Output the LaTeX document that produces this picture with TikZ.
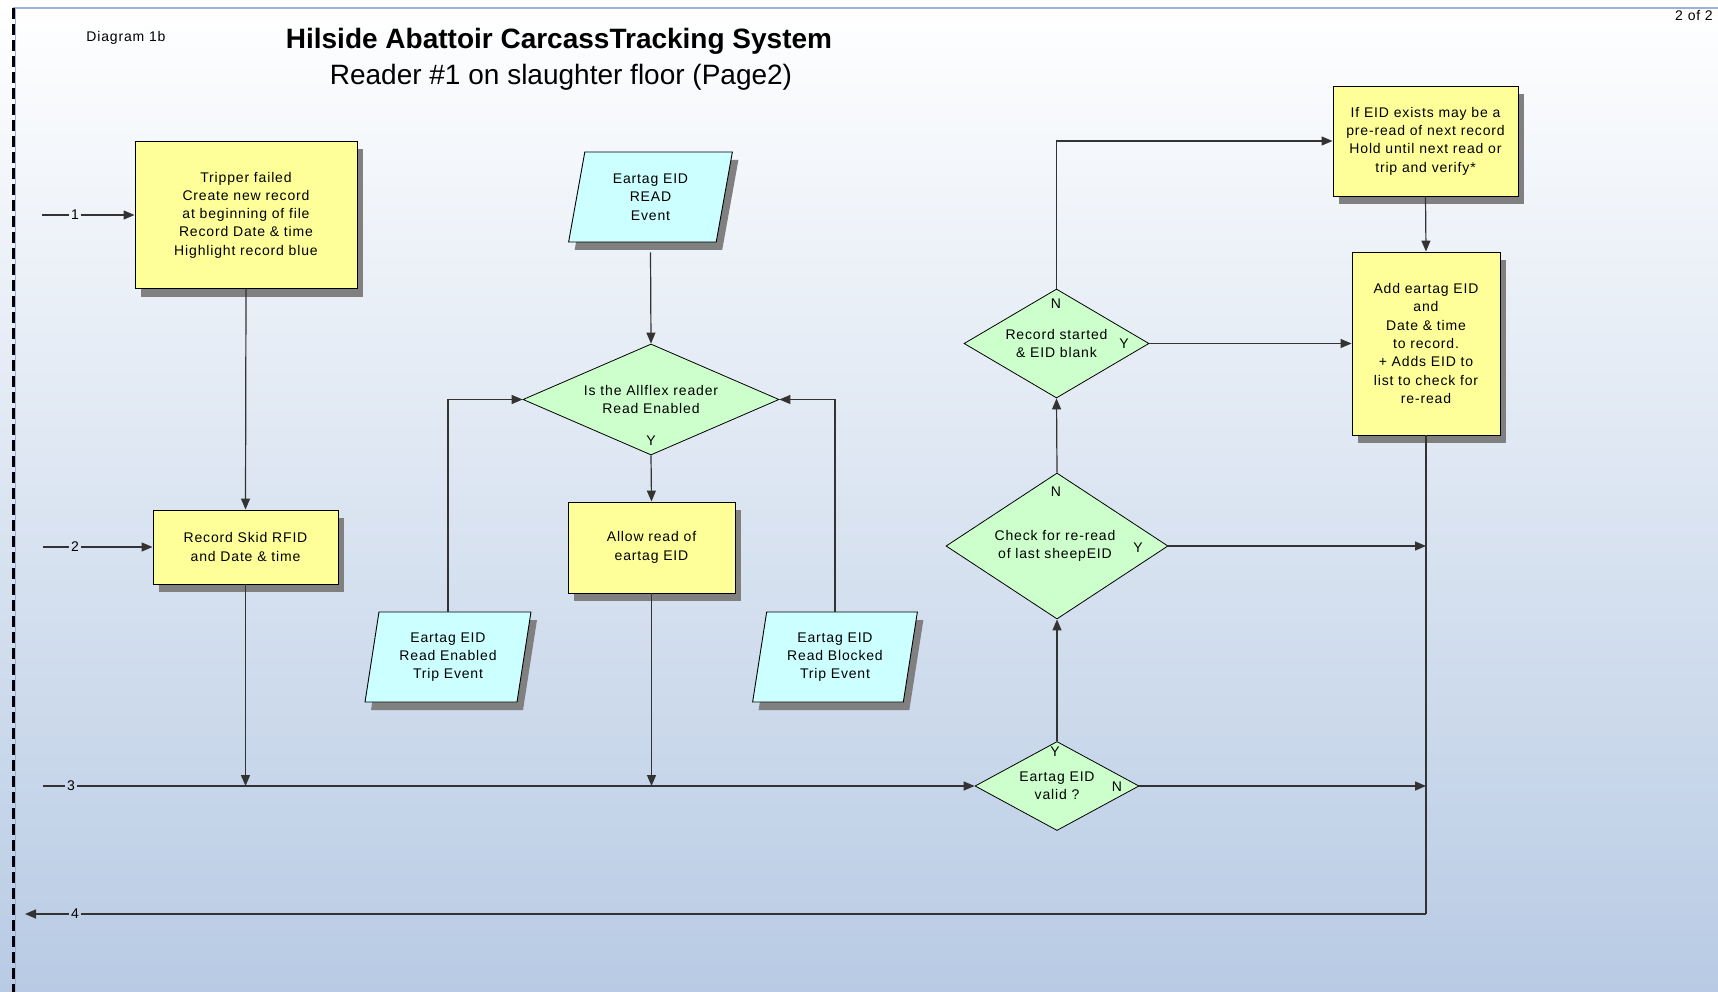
\documentclass[tikz,border=0pt]{standalone}
\usepackage{fontspec}
\setmainfont{Liberation Sans}
\newfontfamily\boxfont[LetterSpace=6]{Liberation Sans}
\usetikzlibrary{arrows.meta,shapes.geometric,shadows}

\definecolor{boxyellow}{HTML}{FFFF99}
\definecolor{iocyan}{HTML}{CCFFFF}
\definecolor{decgreen}{HTML}{CCFFCC}
\definecolor{shadowgray}{HTML}{808080}
\definecolor{bgbottom}{RGB}{184,203,228}
\definecolor{framebl}{RGB}{155,178,218}
\definecolor{linegray}{HTML}{333333}

\begin{document}
\begin{tikzpicture}[x=1pt,y=-1pt,
  every node/.style={font=\boxfont\fontsize{14}{18.3}\selectfont, inner sep=1pt, align=center},
  boxshadow/.style={drop shadow={shadow xshift=6pt, shadow yshift=-8pt, opacity=1, fill=shadowgray}},
  procbox/.style={rectangle, draw=black, line width=0.9pt, fill=boxyellow, inner sep=0pt, boxshadow},
  iobox/.style={trapezium, trapezium left angle=78.7, trapezium right angle=101.3,
    trapezium stretches=true, draw=black, line width=0.9pt, fill=iocyan, inner sep=0pt, boxshadow},
  decision/.style={diamond, draw=black, line width=0.8pt, fill=decgreen, inner sep=0pt},
  conn/.style={draw=linegray, line width=1.2pt},
  arr/.style={conn, -{Triangle[length=11pt,width=9pt]}},
  flowlabel/.style={inner sep=2pt},
]
\useasboundingbox (0,0) rectangle (1718,992);

% page background and frame
\shade[top color=white, bottom color=bgbottom] (0,0) rectangle (1718,992);
\fill[white] (0,0) rectangle (1718,8);
\draw[framebl, line width=2pt] (13,8) -- (1718,8);
\draw[framebl, line width=1pt] (15.5,8) -- (15.5,992);
\draw[black, line width=2.5pt, dash pattern=on 11pt off 5pt] (13.5,8) -- (13.5,992);

% headings
\node (diag) at (126,38) {\fontsize{14}{16}\selectfont Diagram 1b};
\node (title) at (559,41) {\fontspec{Liberation Sans}\fontsize{28}{30}\selectfont\bfseries Hilside Abattoir CarcassTracking System};
\node (subtitle) at (561,77) {\fontspec{Liberation Sans}\fontsize{28}{30}\selectfont Reader \#1 on slaughter floor (Page2)};
\node (pageno) at (1694,16) {2 of 2};

% process boxes
\node[procbox, minimum width=222pt, minimum height=147pt] (tripper) at (246,215)
  {Tripper failed\\Create new record\\at beginning of file\\Record Date \& time\\Highlight record blue};
\node[procbox, minimum width=185pt, minimum height=74pt] (skid) at (245.5,547)
  {Record Skid RFID\\and Date \& time};
\node[procbox, minimum width=167pt, minimum height=91pt] (allow) at (651.5,547.5)
  {Allow read of\\eartag EID};
\node[procbox, minimum width=185pt, minimum height=110pt] (ifeid) at (1425.5,141)
  {If EID exists may be a\\pre-read of next record\\Hold until next read or\\trip and verify*};
\node[procbox, minimum width=148pt, minimum height=183pt] (add) at (1426,343.5)
  {Add eartag EID\\and\\Date \& time\\to record.\\+ Adds EID to\\list to check for\\re-read};

% event inputs
\node[iobox, minimum width=165pt, minimum height=90pt] (read) at (650.5,197)
  {Eartag EID\\READ\\Event};
\node[iobox, minimum width=166pt, minimum height=90pt] (enabled) at (448,657)
  {Eartag EID\\Read Enabled\\Trip Event};
\node[iobox, minimum width=165pt, minimum height=90pt] (blocked) at (835,657)
  {Eartag EID\\Read Blocked\\Trip Event};

% decisions
\node[decision, minimum width=256pt, minimum height=111pt] (allflex) at (651,399.5) {};
\node (allflex-t) at (allflex) {Is the Allflex reader\\Read Enabled};
\node (allflex-y) at (651,441) {Y};

\node[decision, minimum width=185pt, minimum height=109pt] (started) at (1056.5,343.5) {};
\node (started-t) at (started) {Record started\\\& EID blank};
\node (started-n) at (1056,304) {N};
\node (started-y) at (1124,344) {Y};

\node[decision, minimum width=222pt, minimum height=146pt] (check) at (1057,546) {};
\node (check-t) at (1055,546) {Check for re-read\\of last sheepEID};
\node (check-n) at (1056,492) {N};
\node (check-y) at (1138,548) {Y};

\node[decision, minimum width=164pt, minimum height=89pt] (valid) at (1057,786) {};
\node (valid-t) at (valid) {Eartag EID\\valid ?};
\node (valid-y) at (1055,752) {Y};
\node (valid-n) at (1117,787) {N};

% numbered flow lines
\coordinate (s1) at (42,215);
\node[flowlabel] (n1) at (75,215) {1};
\coordinate (s2) at (43,547);
\node[flowlabel] (n2) at (75,547) {2};
\coordinate (s3) at (43,786);
\node[flowlabel] (n3) at (71,786) {3};
\coordinate (e4) at (25,914);
\node[flowlabel] (n4) at (75,914) {4};

\draw[conn] (s1) -- (n1);
\draw[arr] (n1) -- (n1 -| tripper.west);
\draw[conn] (s2) -- (n2);
\draw[arr] (n2) -- (n2 -| skid.west);
\draw[conn, line width=1.5pt] (s3) -- (n3);
\draw[arr, line width=1.5pt] (n3) -- (n3 -| valid.west);

\coordinate (j3a) at (skid.south |- s3);
\coordinate (j3b) at (allow.south |- s3);
\coordinate (j4) at (add.south |- e4);

\draw[arr] (tripper.south) -- (skid.north);
\draw[arr, line width=1.6pt] (skid.south) -- (j3a);

\draw[arr] ([yshift=-10pt]read.south) -- (allflex.north);
\draw[arr] (allflex.south) -- (allow.north);
\draw[arr] (allow.south) -- (j3b);
\draw[arr] (enabled.north) |- (allflex.west);
\draw[arr] (blocked.north) |- (allflex.east);

\draw[arr] (valid.north) -- (check.south);
\draw[arr] (check.north) -- (started.south);
\draw[arr] (started.north) |- (ifeid.west);
\draw[arr] (started.east) -- (started.east -| add.west);
\draw[arr] (ifeid.south) -- (add.north);
\draw[arr] (check.east) -- (check.east -| add.south);
\draw[arr, line width=1.5pt] (valid.east) -- (valid.east -| add.south);

\draw[conn] (add.south) -- (j4);
\draw[conn, line width=1.5pt] (j4) -- (n4);
\draw[arr, line width=1.5pt] (n4) -- (e4);
\end{tikzpicture}
\end{document}
